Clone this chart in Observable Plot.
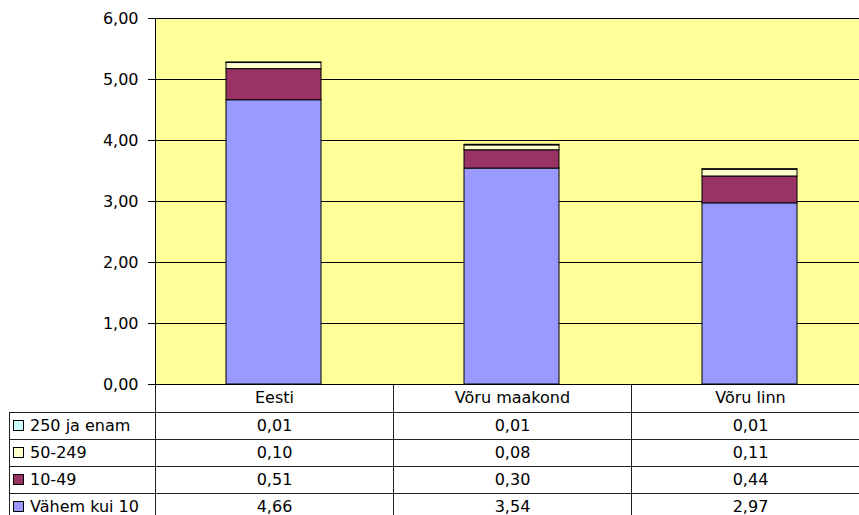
<!DOCTYPE html>
<html><head><meta charset="utf-8">
<script src="https://cdn.jsdelivr.net/npm/d3@7"></script>
<script src="https://cdn.jsdelivr.net/npm/@observablehq/plot@0.6"></script>
<style>
html,body{margin:0;padding:0;background:#fff;}
body{font-family:"DejaVu Sans",Verdana,sans-serif;color:#000;}
#wrap{position:relative;width:859px;height:515px;overflow:hidden;}
#wrap svg{max-width:none;}
table.dt{position:absolute;border-collapse:collapse;font-size:16px;table-layout:fixed;}
table.dt td{border:1px solid #222;padding:0;height:26px;line-height:26px;text-align:center;white-space:nowrap;overflow:hidden;}
table.dt tr.head td{height:28px;line-height:28px;border-top:none;}
table.dt tr.head td.lab{border-left:none;border-bottom:1px solid #222;}
table.dt td.lab{text-align:left;padding-left:3px;}
.key{display:inline-block;width:9px;height:9px;border:1px solid #000;margin-right:6px;vertical-align:0px;}
</style></head>
<body><div id="wrap"></div>
<script>
const categories = ["Eesti", "Võru maakond", "Võru linn"];
const series = ["Vähem kui 10", "10-49", "50-249", "250 ja enam"];
const valVahem = [4.66, 3.54, 2.97];
const val10_49 = [0.51, 0.30, 0.44];
const val50_249 = [0.10, 0.08, 0.11];
const val250 = [0.01, 0.01, 0.01];
const colors = ["#9999FF", "#993366", "#FFFFCC", "#CCFFFF"];
const yTicks = [0, 1, 2, 3, 4, 5, 6];

const seriesValues = [valVahem, val10_49, val50_249, val250];
const data = [];
series.forEach((s, si) => categories.forEach((c, ci) => data.push({cat: c, series: s, value: seriesValues[si][ci]})));
const fmt = d => d.toFixed(2).replace(".", ",");

const chart = Plot.plot({
  width: 869, height: 385,
  marginLeft: 155, marginRight: 0, marginTop: 18, marginBottom: 1,
  style: {fontFamily: '"DejaVu Sans", Verdana, sans-serif', fontSize: "16px", color: "#000", background: "transparent", overflow: "visible"},
  x: {domain: categories, paddingInner: 0.6, paddingOuter: 0.3, axis: null},
  y: {domain: [0, 6]},
  color: {domain: series, range: colors},
  marks: [
    Plot.frame({fill: "#FFFF99", stroke: null}),
    Plot.gridY(yTicks, {stroke: "#000", strokeOpacity: 1, strokeWidth: 1}),
    Plot.frame({anchor: "left", stroke: "#000", strokeWidth: 1}),
    Plot.barY(data, {x: "cat", y: "value", fill: "series", stroke: "#000", strokeWidth: 1}),
    Plot.axisY(yTicks, {tickFormat: fmt, tickSize: 7, tickPadding: 10, label: null, stroke: "#000", fill: "#000", fontSize: 16})
  ]
});
const wrap = document.getElementById("wrap");
wrap.appendChild(chart);

// data table below, column widths from the band scale
const xs = chart.scale("x");
const step = xs.step;
const x0 = xs.range[0];
const labW = 146;
const table = document.createElement("table");
table.className = "dt";
table.style.left = (x0 - labW) + "px";
table.style.top = "384px";
table.style.width = (labW + step * categories.length) + "px";
const cg = document.createElement("colgroup");
[labW, ...categories.map(() => step)].forEach(w => { const c = document.createElement("col"); c.style.width = w + "px"; cg.appendChild(c); });
table.appendChild(cg);
const head = document.createElement("tr");
head.className = "head";
const hl = document.createElement("td"); hl.className = "lab"; head.appendChild(hl);
categories.forEach(c => { const td = document.createElement("td"); td.textContent = c; head.appendChild(td); });
table.appendChild(head);
const rowOrder = [3, 2, 1, 0];
rowOrder.forEach(si => {
  const tr = document.createElement("tr");
  const lab = document.createElement("td");
  lab.className = "lab";
  const key = document.createElement("span");
  key.className = "key";
  key.style.background = colors[si];
  lab.appendChild(key);
  lab.appendChild(document.createTextNode(series[si]));
  tr.appendChild(lab);
  seriesValues[si].forEach(v => { const td = document.createElement("td"); td.textContent = fmt(v); tr.appendChild(td); });
  table.appendChild(tr);
});
wrap.appendChild(table);
</script>
</body></html>
